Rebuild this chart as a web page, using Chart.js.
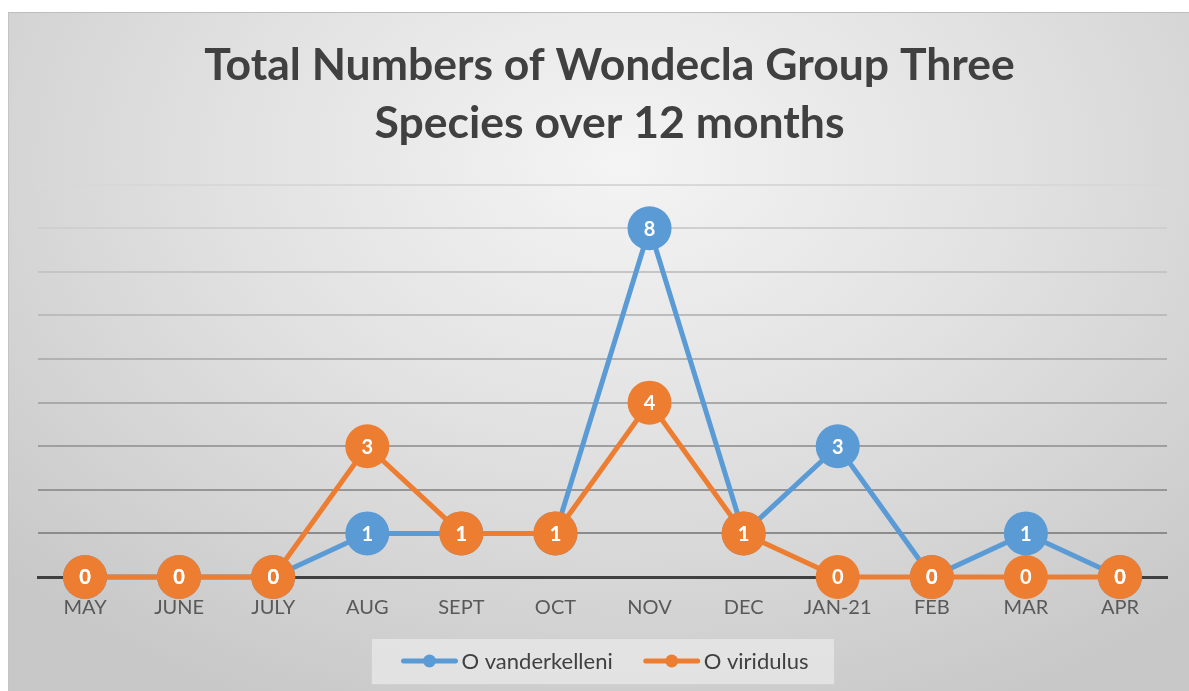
<!DOCTYPE html>
<html>
<head>
<meta charset="utf-8">
<script src="https://cdn.jsdelivr.net/npm/chart.js@4"></script>
<style>
  html, body { margin: 0; padding: 0; background: #fff; }
  #wrap {
    position: absolute; left: 8px; top: 12px; width: 1181px; height: 679px;
    background: radial-gradient(ellipse 72% 88% at 52% 22%, #f4f4f4 0%, #e2e2e2 45%, #c8c8c8 100%);
    border-top: 1px solid #bdbdbd; border-left: 1px solid #c4c4c4;
    box-sizing: border-box;
  }
  canvas { display: block; }
</style>
</head>
<body>
<div id="wrap"><canvas id="myChart" width="1180" height="678"></canvas></div>
<script>
const months = ['MAY', 'JUNE', 'JULY', 'AUG', 'SEPT', 'OCT', 'NOV', 'DEC', 'JAN-21', 'FEB', 'MAR', 'APR'];
const vanderkelleni = [0, 0, 0, 1, 1, 1, 8, 1, 3, 0, 1, 0];
const viridulus = [0, 0, 0, 3, 1, 1, 4, 1, 0, 0, 0, 0];
const titleLines = ['Total Numbers of Wondecla Group Three', 'Species over 12 months'];

const BLUE = '#5B9BD5';
const ORANGE = '#ED7D31';
const FONT = 'Lato, "Open Sans", sans-serif';

const valueLabels = {
  id: 'valueLabels',
  afterDatasetsDraw(chart) {
    const ctx = chart.ctx;
    ctx.save();
    ctx.font = 'bold 20px ' + FONT;
    ctx.fillStyle = '#ffffff';
    ctx.textAlign = 'center';
    ctx.textBaseline = 'middle';
    chart.data.datasets.forEach((ds, i) => {
      chart.getDatasetMeta(i).data.forEach((pt, j) => {
        ctx.fillText(String(ds.data[j]), pt.x, pt.y + 1);
      });
    });
    ctx.restore();
  }
};

// office style legend: boxed, line-with-dot icons, centred under the plot area
const boxLegend = {
  id: 'boxLegend',
  afterDraw(chart) {
    const ctx = chart.ctx;
    const area = chart.chartArea;
    const iconW = 56, iconGap = 4, itemGap = 31, padL = 30, padR = 26;
    ctx.save();
    ctx.font = '22px ' + FONT;
    const items = chart.data.datasets.map(ds => ({ text: ds.label, color: ds.borderColor, w: ctx.measureText(ds.label).width }));
    let total = 0;
    items.forEach((it, i) => { total += iconW + iconGap + it.w + (i ? itemGap : 0); });
    const boxW = total + padL + padR, boxH = 46;
    const cx = (area.left + area.right) / 2;
    const cy = chart.height - 30;
    const bx = Math.round(cx - boxW / 2) + 0.5, by = Math.round(cy - boxH / 2) + 0.5;
    ctx.fillStyle = 'rgba(228,228,228,0.9)';
    ctx.strokeStyle = '#d0d0d0';
    ctx.lineWidth = 1;
    ctx.fillRect(bx, by, boxW, boxH);
    ctx.strokeRect(bx, by, boxW, boxH);
    let x = bx + padL;
    ctx.textBaseline = 'middle';
    ctx.textAlign = 'left';
    items.forEach((it, i) => {
      if (i) x += itemGap;
      ctx.strokeStyle = it.color; ctx.lineWidth = 5; ctx.lineCap = 'round';
      ctx.beginPath(); ctx.moveTo(x + 2, cy); ctx.lineTo(x + iconW - 2, cy); ctx.stroke();
      ctx.fillStyle = it.color;
      ctx.beginPath(); ctx.arc(x + iconW / 2, cy, 6.5, 0, Math.PI * 2); ctx.fill();
      x += iconW + iconGap;
      ctx.fillStyle = '#404040';
      ctx.fillText(it.text, x, cy + 1);
      x += it.w;
    });
    ctx.restore();
  }
};

const ctx = document.getElementById('myChart');
new Chart(ctx, {
  type: 'line',
  data: {
    labels: months,
    datasets: [
      {
        label: 'O vanderkelleni',
        data: vanderkelleni,
        borderColor: BLUE,
        backgroundColor: BLUE,
        borderWidth: 5,
        pointRadius: 22,
        pointBorderWidth: 0,
        pointHoverRadius: 22,
        order: 1,
        clip: false,
        fill: false,
        tension: 0
      },
      {
        label: 'O viridulus',
        data: viridulus,
        borderColor: ORANGE,
        backgroundColor: ORANGE,
        borderWidth: 5,
        pointRadius: 22,
        pointBorderWidth: 0,
        pointHoverRadius: 22,
        order: 0,
        clip: false,
        fill: false,
        tension: 0
      }
    ]
  },
  options: {
    responsive: false,
    animation: false,
    layout: { padding: { left: 29, right: 8, top: 0, bottom: 60 } },
    plugins: {
      title: {
        display: true,
        text: titleLines,
        color: '#404040',
        font: { family: FONT, size: 44.5, weight: 'bold', lineHeight: 1.3 },
        padding: { top: 24, bottom: 32 }
      },
      legend: { display: false },
      tooltip: { enabled: false }
    },
    scales: {
      x: {
        offset: true,
        grid: { display: false },
        border: { display: true, color: '#404040', width: 3, z: 0 },
        ticks: { color: '#595959', font: { family: FONT, size: 20 }, padding: 11 },
        afterFit(scale) { scale.paddingRight = 0; scale.paddingLeft = 0; }
      },
      y: {
        min: 0,
        max: 9,
        ticks: { display: false, stepSize: 1 },
        border: { display: false },
        grid: {
          drawTicks: false,
          lineWidth: 2,
          color: (c) => {
            const v = c.tick ? c.tick.value : 0;
            if (v === 0) return 'rgba(0,0,0,0)';
            const shade = Math.round(140 + (v - 1) * 9.5);
            return 'rgb(' + shade + ',' + shade + ',' + shade + ')';
          }
        }
      }
    }
  },
  plugins: [valueLabels, boxLegend]
});
</script>
</body>
</html>
